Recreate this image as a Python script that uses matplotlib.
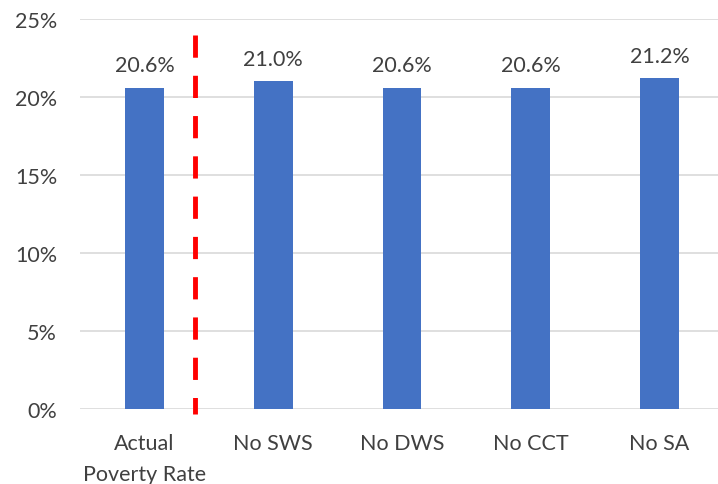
import matplotlib
matplotlib.use("Agg")
import matplotlib.pyplot as plt
from matplotlib.ticker import FuncFormatter

categories = ["Actual\nPoverty Rate", "No SWS", "No DWS", "No CCT", "No SA"]
poverty_rate = [20.6, 21.0, 20.6, 20.6, 21.2]
y_ticks = [0, 5, 10, 15, 20, 25]

plt.rcParams["font.family"] = ["Lato", "DejaVu Sans"]
plt.rcParams["lines.scale_dashes"] = False
text_color = "#404040"
font_size = 15.5

fig = plt.figure(figsize=(7.18, 4.85), dpi=100)
ax = fig.add_axes([80 / 718, (485 - 410) / 485, 644 / 718, 390 / 485])

x = list(range(len(categories)))
ax.bar(x, poverty_rate, width=0.30, color="#4472C4", zorder=3)

for xi, v in zip(x, poverty_rate):
    ax.annotate(f"{v:.1f}%", (xi, v), xytext=(0, 12), textcoords="offset points",
                ha="center", va="baseline", fontsize=font_size, color=text_color)

# separator between the actual rate and the counterfactual scenarios
ax.plot([0.395, 0.395], [24.0, -0.35], color="#FF0000", lw=3.5,
        dashes=(16, 13), zorder=4, clip_on=False,
        dash_capstyle="butt")

ax.set_xlim(-0.5, len(categories) - 0.5)
ax.set_ylim(0, 25)
ax.set_yticks(y_ticks)
ax.yaxis.set_major_formatter(FuncFormatter(lambda v, _: f"{v:.0f}%"))
ax.set_xticks(x)
ax.set_xticklabels(categories, linespacing=1.65)
ax.tick_params(axis="both", length=0, labelsize=font_size, labelcolor=text_color)
ax.tick_params(axis="y", pad=16.5)
ax.tick_params(axis="x", pad=17.5)
ax.grid(axis="y", color="#D9D9D9", lw=1.2, zorder=0)
for s in ax.spines.values():
    s.set_visible(False)

fig.savefig("out.png", dpi=100)
